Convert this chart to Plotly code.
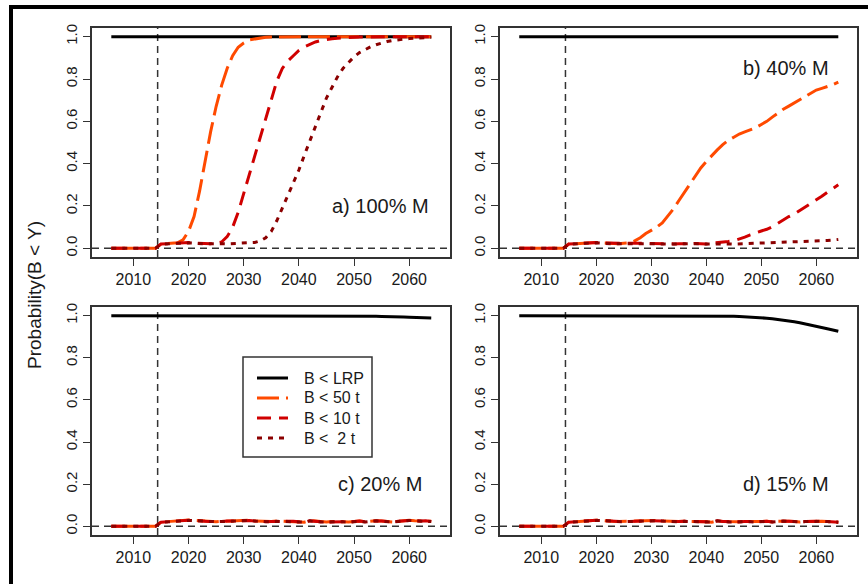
import plotly.graph_objects as go

W, H = 868, 584
FONT = "Liberation Sans, Arial, sans-serif"

# ---------------------------------------------------------------- data
years = list(range(2006, 2065))
series_names = ["B < LRP", "B < 50 t", "B < 10 t", "B <  2 t"]
panel_titles = ["a) 100% M", "b) 40% M", "c) 20% M", "d) 15% M"]
x_ticks = [2010, 2020, 2030, 2040, 2050, 2060]
y_ticks = [0.0, 0.2, 0.4, 0.6, 0.8, 1.0]
y_tick_text = ["0.0", "0.2", "0.4", "0.6", "0.8", "1.0"]
y_title = "Probability(B < Y)"
current_year = 2014.4

# a) 100% M
a_lrp = [1.0] * 59
a_50t = [0.0] * 9 + [
    0.020, 0.022, 0.021, 0.026, 0.040, 0.080, 0.150, 0.270, 0.410, 0.550,
    0.670, 0.770, 0.850, 0.910, 0.950, 0.970, 0.985, 0.990, 0.995, 0.997,
    0.998, 0.999] + [1.0] * 28
a_10t = [0.0] * 9 + [
    0.020, 0.022, 0.021, 0.024, 0.026, 0.027, 0.025, 0.023, 0.022, 0.022,
    0.024,
    0.030, 0.055, 0.100, 0.170, 0.260, 0.340, 0.430, 0.520, 0.610, 0.710,
    0.790, 0.850, 0.885, 0.910, 0.935, 0.952, 0.965, 0.975, 0.982, 0.987,
    0.990, 0.993, 0.995, 0.996, 0.997, 0.998, 0.998, 0.999, 0.999] + [1.0] * 10
a_2t = [0.0] * 9 + [
    0.020, 0.022, 0.021, 0.023, 0.025, 0.026, 0.024, 0.022, 0.021, 0.022,
    0.023, 0.022, 0.021, 0.022, 0.024, 0.023, 0.025, 0.028,
    0.035, 0.050, 0.080, 0.130, 0.190, 0.250, 0.310, 0.370, 0.440, 0.510,
    0.580, 0.650, 0.710, 0.760, 0.810, 0.850, 0.880, 0.905, 0.925, 0.940,
    0.952, 0.962, 0.970, 0.977, 0.982, 0.986, 0.989, 0.991, 0.993, 0.995,
    0.996, 0.997]

# b) 40% M
b_lrp = [1.0] * 59
b_50t = [0.0] * 9 + [
    0.020, 0.022, 0.021, 0.024, 0.026, 0.028, 0.026, 0.024, 0.023, 0.022,
    0.024, 0.026,
    0.035, 0.050, 0.070, 0.085, 0.100, 0.120, 0.150, 0.185, 0.225, 0.265,
    0.305, 0.345, 0.380, 0.410, 0.440, 0.465, 0.490, 0.510, 0.525, 0.540,
    0.550, 0.560, 0.570, 0.585, 0.600, 0.620, 0.640, 0.657, 0.672, 0.688,
    0.703, 0.718, 0.733, 0.748, 0.756, 0.763, 0.773, 0.785]
b_10t = [0.0] * 9 + [
    0.020, 0.022, 0.021, 0.024, 0.026, 0.027, 0.025, 0.024, 0.023, 0.022,
    0.023, 0.024, 0.025, 0.026, 0.024, 0.023, 0.022, 0.021, 0.020, 0.021,
    0.022, 0.020, 0.021, 0.023, 0.022, 0.020, 0.024, 0.026, 0.028,
    0.032, 0.036, 0.043, 0.053, 0.064, 0.074, 0.082, 0.090, 0.102, 0.118,
    0.135, 0.150, 0.162, 0.178, 0.196, 0.212, 0.228, 0.246, 0.265, 0.282,
    0.300]
b_2t = [0.0] * 9 + [
    0.020, 0.022, 0.021, 0.023, 0.025, 0.026, 0.024, 0.022, 0.021, 0.022,
    0.023, 0.022, 0.021, 0.022, 0.023, 0.022, 0.021, 0.020, 0.021, 0.020,
    0.021, 0.022, 0.020, 0.021, 0.022, 0.020, 0.021, 0.022, 0.023, 0.021,
    0.020, 0.021, 0.022, 0.021, 0.022, 0.023, 0.024, 0.024, 0.025, 0.026,
    0.027, 0.028, 0.029, 0.030, 0.031, 0.033, 0.035, 0.037, 0.039, 0.042]

# c) 20% M
c_lrp = [1.0] * 42 + [
    0.9995, 0.999, 0.999, 0.998, 0.998, 0.997, 0.997, 0.996, 0.996, 0.995,
    0.994, 0.993, 0.992, 0.991, 0.990, 0.990, 0.989]
c_50t = [0.0] * 9 + [
    0.020, 0.022, 0.021, 0.024, 0.027, 0.030, 0.028, 0.026, 0.024, 0.023,
    0.022, 0.024, 0.025, 0.026, 0.028, 0.027, 0.029, 0.026, 0.024, 0.022,
    0.023, 0.025, 0.024, 0.026, 0.024, 0.022, 0.020, 0.027, 0.024, 0.022,
    0.021, 0.023, 0.024, 0.022, 0.021, 0.024, 0.025, 0.022, 0.026, 0.027,
    0.025, 0.023, 0.021, 0.024, 0.028, 0.029, 0.027, 0.026, 0.028, 0.024]
c_10t = [0.0] * 9 + [
    0.020, 0.022, 0.021, 0.024, 0.026, 0.029, 0.028, 0.025, 0.024, 0.023,
    0.022, 0.023, 0.025, 0.026, 0.027, 0.027, 0.028, 0.026, 0.023, 0.022,
    0.023, 0.024, 0.024, 0.025, 0.024, 0.022, 0.020, 0.026, 0.023, 0.022,
    0.021, 0.022, 0.024, 0.022, 0.021, 0.023, 0.025, 0.022, 0.025, 0.026,
    0.025, 0.023, 0.021, 0.024, 0.027, 0.028, 0.027, 0.025, 0.027, 0.023]
c_2t = [0.0] * 9 + [
    0.019, 0.021, 0.021, 0.023, 0.026, 0.028, 0.027, 0.025, 0.023, 0.022,
    0.022, 0.023, 0.024, 0.025, 0.027, 0.026, 0.028, 0.025, 0.023, 0.021,
    0.022, 0.024, 0.023, 0.025, 0.023, 0.021, 0.020, 0.026, 0.023, 0.021,
    0.021, 0.022, 0.023, 0.022, 0.020, 0.023, 0.024, 0.021, 0.025, 0.026,
    0.024, 0.022, 0.021, 0.023, 0.027, 0.028, 0.026, 0.025, 0.027, 0.023]

# d) 15% M
d_lrp = [1.0] * 34 + [
    0.9995, 0.999, 0.999, 0.998, 0.998, 0.997, 0.996, 0.995, 0.994, 0.992,
    0.990, 0.988, 0.985, 0.982, 0.978, 0.975, 0.971, 0.966, 0.961, 0.955,
    0.949, 0.944, 0.938, 0.932, 0.926]
d_50t = [0.0] * 9 + [
    0.020, 0.022, 0.021, 0.024, 0.027, 0.029, 0.028, 0.025, 0.024, 0.023,
    0.022, 0.024, 0.025, 0.026, 0.028, 0.027, 0.028, 0.026, 0.024, 0.022,
    0.023, 0.024, 0.024, 0.025, 0.024, 0.022, 0.020, 0.026, 0.023, 0.022,
    0.021, 0.022, 0.023, 0.022, 0.021, 0.023, 0.024, 0.021, 0.024, 0.025,
    0.024, 0.023, 0.021, 0.023, 0.024, 0.025, 0.024, 0.023, 0.022, 0.020]
d_10t = [0.0] * 9 + [
    0.020, 0.022, 0.021, 0.024, 0.026, 0.029, 0.027, 0.025, 0.024, 0.023,
    0.022, 0.023, 0.025, 0.026, 0.027, 0.027, 0.028, 0.026, 0.023, 0.022,
    0.023, 0.024, 0.024, 0.025, 0.024, 0.022, 0.020, 0.026, 0.023, 0.022,
    0.021, 0.022, 0.023, 0.022, 0.021, 0.023, 0.024, 0.021, 0.024, 0.025,
    0.024, 0.023, 0.021, 0.023, 0.024, 0.025, 0.024, 0.023, 0.022, 0.020]
d_2t = [0.0] * 9 + [
    0.019, 0.021, 0.021, 0.023, 0.026, 0.028, 0.027, 0.025, 0.023, 0.022,
    0.022, 0.023, 0.024, 0.025, 0.027, 0.026, 0.027, 0.025, 0.023, 0.021,
    0.022, 0.024, 0.023, 0.025, 0.023, 0.021, 0.020, 0.026, 0.023, 0.021,
    0.021, 0.022, 0.023, 0.022, 0.020, 0.023, 0.024, 0.021, 0.024, 0.025,
    0.024, 0.022, 0.021, 0.023, 0.024, 0.025, 0.024, 0.023, 0.022, 0.020]

panels = [
    [a_lrp, a_50t, a_10t, a_2t],
    [b_lrp, b_50t, b_10t, b_2t],
    [c_lrp, c_50t, c_10t, c_2t],
    [d_lrp, d_50t, d_10t, d_2t],
]
for p in panels:
    for s in p:
        assert len(s) == len(years)

# ---------------------------------------------------------------- styling
line_colors = ["#000000", "#FF4A00", "#D00000", "#8B0000"]
line_dashes = ["solid", "22px,7px", "14px,8px", "5px,6px"]
line_widths = [3, 3, 3, 3]
frame_col = "#333333"


def px_x(v):
    return v / W


def px_y(v):
    return 1 - v / H


# panel boxes in pixels: (left, right, top, bottom)
boxes = [(92, 450, 28, 257), (500, 857, 28, 257),
         (92, 450, 307, 535), (500, 857, 307, 535)]
label_pos = [(2063.9, 0.2), (2062.7, 0.85), (2062.7, 0.2), (2062.7, 0.2)]

fig = go.Figure()
layout = dict(
    width=W, height=H, autosize=False,
    margin=dict(l=0, r=0, t=0, b=0),
    paper_bgcolor="white", plot_bgcolor="white",
    showlegend=False,
    font=dict(family=FONT, color="#1a1a1a"),
)

shapes = []
annotations = []

for i, (series, box) in enumerate(zip(panels, boxes)):
    n = "" if i == 0 else str(i + 1)
    xa, ya = "x" + n, "y" + n
    l, r, t, b = box
    layout["xaxis" + n] = dict(
        domain=[px_x(l), px_x(r)], range=[2002.5, 2067.4], anchor=ya,
        tickvals=x_ticks, ticks="outside", ticklen=7, tickwidth=1.3,
        tickcolor=frame_col, showline=True, mirror=True, linecolor=frame_col,
        linewidth=1.5, showgrid=False, zeroline=False, automargin=False,
        tickfont=dict(size=16, family=FONT, color="#1a1a1a"),
    )
    layout["yaxis" + n] = dict(
        domain=[px_y(b), px_y(t)], range=[-0.041, 1.041], anchor=xa,
        tickvals=y_ticks, ticktext=y_tick_text, tickangle=-90,
        ticks="outside", ticklen=7, tickwidth=1.3, tickcolor=frame_col,
        showline=True, mirror=True, linecolor=frame_col, linewidth=1.5,
        showgrid=False, zeroline=False, automargin=False,
        tickfont=dict(size=15, family=FONT, color="#1a1a1a"),
    )
    # reference lines: zero probability and the last assessment year
    shapes.append(dict(type="line", xref=xa + " domain", yref=ya,
                       x0=0, x1=1, y0=0, y1=0, layer="below",
                       line=dict(color=frame_col, width=1.5, dash="7px,5px")))
    shapes.append(dict(type="line", xref=xa, yref=ya + " domain",
                       x0=current_year, x1=current_year, y0=0, y1=1,
                       layer="below",
                       line=dict(color=frame_col, width=1.5, dash="7px,5px")))
    for k, ys in enumerate(series):
        fig.add_trace(go.Scatter(
            x=years, y=ys, mode="lines", name=series_names[k],
            xaxis=xa, yaxis=ya, hoverinfo="skip",
            line=dict(color=line_colors[k], width=line_widths[k],
                      dash=line_dashes[k]),
        ))
    lx, ly = label_pos[i]
    annotations.append(dict(
        x=lx, y=ly, xref=xa, yref=ya, text=panel_titles[i], showarrow=False,
        xanchor="right", yanchor="middle",
        font=dict(size=20, family=FONT, color="#1a1a1a"),
    ))

# shared y-axis title
annotations.append(dict(
    x=px_x(34), y=px_y(295), xref="paper", yref="paper", text=y_title,
    textangle=-90, showarrow=False, xanchor="center", yanchor="middle",
    font=dict(size=19, family=FONT, color="#1a1a1a"),
))

# legend box inside panel c
shapes.append(dict(type="rect", xref="paper", yref="paper",
                   x0=px_x(243), x1=px_x(372), y0=px_y(457), y1=px_y(357),
                   fillcolor="white", line=dict(color=frame_col, width=1.5)))
for k, name in enumerate(series_names):
    yy = 378 + 20 * k
    shapes.append(dict(type="line", xref="paper", yref="paper",
                       x0=px_x(257), x1=px_x(288), y0=px_y(yy), y1=px_y(yy),
                       line=dict(color=line_colors[k], width=line_widths[k],
                                 dash=line_dashes[k])))
    annotations.append(dict(
        x=px_x(302), y=px_y(yy), xref="paper", yref="paper",
        text=name.replace("  ", "&nbsp; "), showarrow=False,
        xanchor="left", yanchor="middle",
        font=dict(size=16, family=FONT, color="#1a1a1a"),
    ))

# outer frame (left and top edges)
shapes.append(dict(type="line", xref="paper", yref="paper",
                   x0=px_x(11), x1=px_x(11), y0=0, y1=px_y(5),
                   line=dict(color="black", width=4)))
shapes.append(dict(type="line", xref="paper", yref="paper",
                   x0=px_x(9), x1=1, y0=px_y(7), y1=px_y(7),
                   line=dict(color="black", width=4)))

layout["shapes"] = shapes
layout["annotations"] = annotations
fig.update_layout(**layout)

fig.write_html("out.html", include_plotlyjs=True, full_html=True,
               config={"displayModeBar": False})
